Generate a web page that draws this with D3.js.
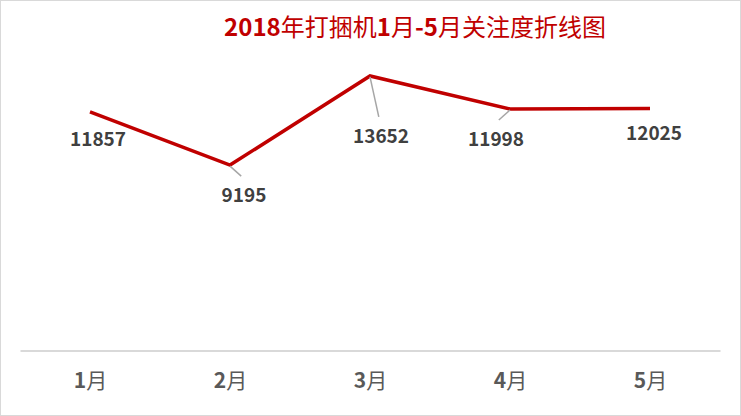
<!DOCTYPE html>
<html>
<head>
<meta charset="utf-8">
<script src="https://cdn.jsdelivr.net/npm/d3@7"></script>
<style>
  body { margin: 0; background: #fff; }
</style>
</head>
<body>
<div id="chart"></div>
<script>
const months = ['1月', '2月', '3月', '4月', '5月'];
const views = [11857, 9195, 13652, 11998, 12025];
const title = '2018年打捆机1月-5月关注度折线图';

// where each value label sits, relative to its point, and whether it gets a leader line
const labelShift = [
    { dx: 8, dy: 34, leader: false },
    { dx: 14, dy: 37, leader: true },
    { dx: 11, dy: 67, leader: true },
    { dx: -14, dy: 37, leader: true },
    { dx: 4, dy: 31, leader: false }
];

const width = 741;
const height = 416;
const font = '"Liberation Sans Narrow", "Noto Sans CJK SC", sans-serif';

// digits bold, chinese characters regular, like the office chart
function mixedText(sel, str) {
    const runs = str.match(/[\u4e00-\u9fff]+|[^\u4e00-\u9fff]+/g);
    sel.text(null);
    runs.forEach(r => {
        sel.append('tspan')
            .attr('font-weight', /[\u4e00-\u9fff]/.test(r) ? 'normal' : 'bold')
            .text(r);
    });
}

const svg = d3.select('#chart')
    .append('svg')
    .attr('width', width)
    .attr('height', height);

svg.append('rect')
    .attr('x', 0.5)
    .attr('y', 0.5)
    .attr('width', width - 1)
    .attr('height', height - 1)
    .attr('fill', '#fff')
    .attr('stroke', '#d9d9d9');

const x = d3.scalePoint()
    .domain(months)
    .range([20, 720])
    .padding(0.5);

const y = d3.scaleLinear()
    .domain([0, 16000])
    .range([349, 29]);

svg.append('text')
    .attr('x', 415)
    .attr('y', 36)
    .attr('text-anchor', 'middle')
    .attr('font-family', font)
    .attr('font-size', '24px')
    .attr('fill', '#c00000')
    .call(mixedText, title);

// category axis
const xAxis = svg.append('g')
    .attr('transform', 'translate(0, 351)')
    .call(d3.axisBottom(x).tickSize(0).tickPadding(22));
xAxis.select('.domain')
    .attr('d', 'M20.5,0H720.5')
    .attr('stroke', '#d9d9d9')
    .attr('stroke-width', 2);
xAxis.selectAll('.tick text')
    .attr('font-family', font)
    .attr('font-size', '21px')
    .attr('fill', '#595959')
    .each(function (d) { d3.select(this).call(mixedText, d); });

const line = d3.line()
    .x((d, i) => x(months[i]))
    .y(d => y(d));

svg.append('path')
    .datum(views)
    .attr('d', line)
    .attr('fill', 'none')
    .attr('stroke', '#c00000')
    .attr('stroke-width', 3.5)
    .attr('stroke-linejoin', 'miter');

const labels = svg.append('g');

labels.selectAll('line')
    .data(d3.range(views.length).filter(i => labelShift[i].leader))
    .join('line')
    .attr('x1', i => x(months[i]))
    .attr('y1', i => y(views[i]) + 1)
    .attr('x2', i => x(months[i]) + labelShift[i].dx * 0.8)
    .attr('y2', i => y(views[i]) + labelShift[i].dy - 26)
    .attr('stroke', '#a6a6a6')
    .attr('stroke-width', 1.5);

labels.selectAll('text')
    .data(views)
    .join('text')
    .attr('x', (d, i) => x(months[i]) + labelShift[i].dx)
    .attr('y', (d, i) => y(d) + labelShift[i].dy)
    .attr('text-anchor', 'middle')
    .attr('font-family', font)
    .attr('font-weight', 'bold')
    .attr('font-size', '19px')
    .attr('fill', '#404040')
    .text(d => d);
</script>
</body>
</html>
